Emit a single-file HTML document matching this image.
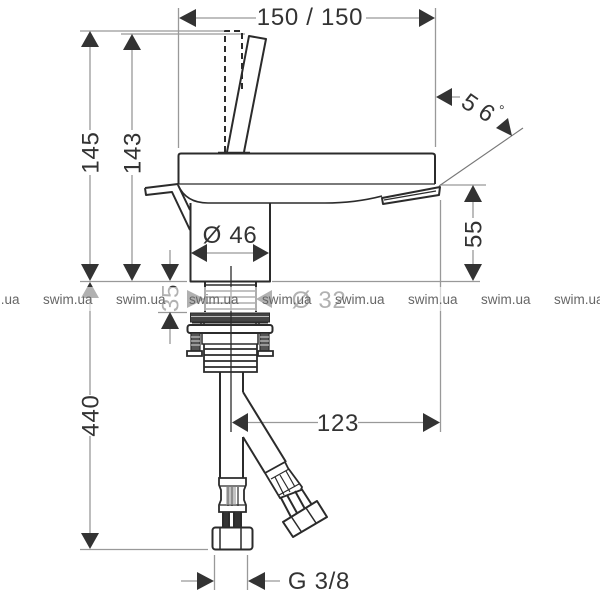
<!DOCTYPE html>
<html><head><meta charset="utf-8"><style>
html,body{margin:0;padding:0;background:#fff;width:600px;height:600px;overflow:hidden}
svg{display:block}
text{font-family:"Liberation Sans",sans-serif;fill:#333}
.d{font-size:24px;text-anchor:middle;letter-spacing:.7px}
.w{font-size:13.5px;fill:#666;text-anchor:start}
.t{stroke:#999;stroke-width:1.3;fill:none}
.k{stroke:#2b2b2b;stroke-width:2;fill:none;stroke-linejoin:round}
.n{stroke:#2b2b2b;stroke-width:1.3;fill:none}
.a{fill:#333;stroke:none}
</style></head><body>
<svg width="600" height="600" viewBox="0 0 600 600" xmlns="http://www.w3.org/2000/svg">
<!-- extension & dim lines -->
<path class="t" d="M178.500 8V148M435.500 8V147M196 18H256M366 18H420M80 31H225M121 34H245M90 47V130M90 175V264M132 47V130M132 175V264M80 281.500H187M272 281.500H480M170 250V264M158 312.500H187M170 329V344M90 298V395M90 436V533M80 549.500H208M214.500 555V590M247.500 555V590M181 581H197M265 581H280M248 422.500H318M358 422.500H423M440.500 200V432M440 185H486M473 202V218M473 250V264M207 253H253M452 97H460"/>
<path d="M439 186L523 128" stroke="#777" stroke-width="1.1" fill="none"/>
<!-- arrows -->
<path class="a" d="M179 18L196 9V27ZM435 18L419 9V27ZM90 31L81 47H99ZM90 281L81 264H99ZM132 34L123 50H141ZM132 281L123 264H141ZM170 281L161 264H179ZM170 312L161 329H179ZM90 549L81 533H99ZM214 581L197 572V590ZM248 581L265 572V590ZM232 422.500L248 413V432ZM440 422.500L423 413V432ZM473 185L464 202H482ZM473 281L464 264H482ZM191 253L207 244V262ZM269 253L253 244V262ZM436 97L452 88V106ZM512 136L496 128L508 118Z"/>
<!-- body -->
<path class="k" d="M178.500 184V156Q178.500 153.500 181 153.500H432Q435 153.500 435 156V184"/>
<path class="n" d="M178 184H435"/>
<path class="k" style="stroke-width:1.600" d="M178 185Q186 203 208 203H325Q355 203 382 196"/>
<path class="k" d="M382 198L440 187L439 195L383 204Z"/>
<path class="n" d="M384 200L436 191"/>
<!-- lever -->
<path class="k" d="M227 152L249 36L266 39L244 152"/>
<path class="k" stroke-dasharray="6 4" d="M225 152V31H242V90"/>
<path class="k" d="M218 152.500H250" style="stroke-width:1.500"/>
<!-- side lever -->
<path class="k" d="M145 188L178 184M145 188L146 195L172 192L190 230M178 185L190 210"/>
<!-- neck -->
<path class="k" d="M190.500 203V281.500H270V203"/>
<!-- threaded stem -->
<g stroke="#2b2b2b" fill="none" stroke-width="2">
<path d="M205 282V312M256 282V312"/>
<path d="M205 285H256M205 291H256M205 297H256M205 303H256M205 309H256" stroke-width="1.500"/>
<rect x="190.500" y="313" width="79" height="9" fill="#444" stroke-width="1"/>
<path d="M191 316.500H269" stroke="#bbb" stroke-width="1"/>
<path d="M192 323H268" stroke-width="1"/>
<path d="M201 322V326M204 322V326M256 322V326M259 322V326" stroke-width="1.500"/>
<rect x="187.500" y="325" width="85" height="8" rx="2.500" fill="#fff"/>
<path d="M202 333V344H258V333" stroke-width="1.500"/>
<path d="M204 344V372H257V344" stroke-width="1.800"/>
<path d="M204 349H257M204 355H257M204 361H257M204 367H257" stroke-width="1.800"/>
<rect x="191" y="333" width="9" height="18" fill="#555" stroke-width="1.200"/>
<rect x="260" y="333" width="9" height="18" fill="#555" stroke-width="1.200"/>
<path d="M191 337H200M191 341H200M191 345H200M260 337H269M260 341H269M260 345H269" stroke="#ddd" stroke-width="1"/>
<path d="M187 351H202V356H187ZM258 351H273V356H258Z" stroke-width="1.800" fill="#fff"/>
<!-- left hose -->
<path d="M220 372V478M243 372V392M243 437V478"/>
<path d="M219 478H246V485L244 490V500L246 505V512H219V505L221 500V490L219 485Z" fill="#fff" stroke-width="1.800"/>
<path d="M228 487V506M232 487V506M238 487V506" stroke-width="1.500" stroke="#555"/>
<path d="M220 486H245M220 505H245" stroke-width="1.200"/>
<path d="M226 487H236V505H226Z" fill="#999" stroke="none" opacity=".6"/>
<path d="M223 512V528M229 512V528M234 512V528M241 512V528" stroke-width="2"/>
<path d="M224 512H228V528H224ZM235 512H240V528H235Z" fill="#333" stroke="none"/>
<rect x="212.500" y="527.500" width="40" height="22" rx="3" fill="#fff"/>
<path d="M220 528V549M241 528V549" stroke-width="1.500"/>
<!-- angled hose -->
<path d="M243 392L286 462M243 437L265 473"/>
<path d="M265 473L285 462L288 468L302 487L301 490L280 498L268 478Z" fill="#fff" stroke-width="1.800"/>
<path d="M271 479L289 469M279 495L299 484M275 477L284 495M280 475L290 492M286 471L295 487" stroke-width="1.200"/>
<path d="M281 498L291 517M287 495L297 513M295 491L305 509M301 488L312 505" stroke-width="2"/>
<path d="M283 522L317 501L327 517L293 537Z" fill="#fff" stroke-linejoin="round"/>
<path d="M291.500 517L301.500 532M306 508L316 523" stroke-width="1.500"/>
</g>
<path class="n" d="M231 266V432"/>
<!-- labels -->
<text class="d" x="310" y="25">150 / 150</text>
<text class="d" transform="translate(98.500,152.500) rotate(-90)" x="0" y="0">145</text>
<text class="d" transform="translate(140.500,153) rotate(-90)" x="0" y="0">143</text>
<text class="d" x="230" y="243">Ø 46</text>
<text class="d" transform="translate(178.500,298) rotate(-90)" x="0" y="0">35</text>
<text class="d" transform="translate(98.500,415.500) rotate(-90)" x="0" y="0">440</text>
<text class="d" x="338" y="431">123</text>
<text class="d" transform="translate(481.500,234) rotate(-90)" x="0" y="0">55</text>
<text class="d" x="319" y="589">G 3/8</text>
<text class="d" transform="translate(470,103) rotate(35)" x="0" y="8">5</text>
<text class="d" transform="translate(487,113) rotate(35)" x="0" y="8">6</text>
<text transform="translate(495,112) rotate(35)" style="font-size:14px">°</text>
<text class="d" x="319" y="308">Ø 32</text>
<!-- lower arrows -->
<path class="a" d="M90 282L81 298H99ZM205 299L187 290V308ZM256 299L272 290V308Z"/>
<!-- watermark band -->
<rect x="0" y="287" width="600" height="24" fill="#fff" fill-opacity="0.62"/>
<text class="w" x="-30" y="304">swim.ua</text>
<text class="w" x="43" y="304">swim.ua</text>
<text class="w" x="116" y="304">swim.ua</text>
<text class="w" x="189" y="304">swim.ua</text>
<text class="w" x="262" y="304">swim.ua</text>
<text class="w" x="335" y="304">swim.ua</text>
<text class="w" x="408" y="304">swim.ua</text>
<text class="w" x="481" y="304">swim.ua</text>
<text class="w" x="554" y="304">swim.ua</text>
</svg>
</body></html>
